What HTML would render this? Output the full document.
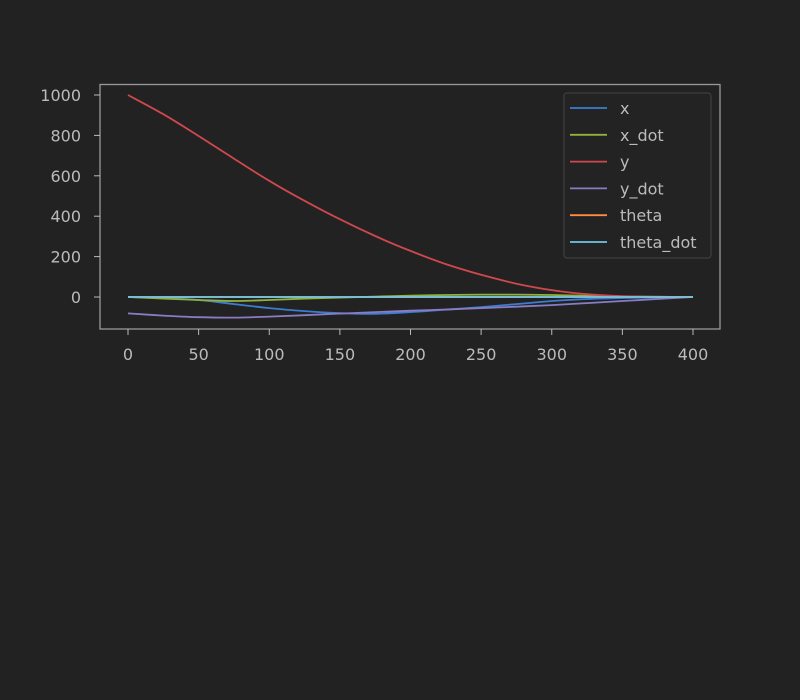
<!DOCTYPE html>
<html><head><meta charset="utf-8"><style>
body{margin:0;background:#222;}
svg{display:block;font-family:"DejaVu Sans","Liberation Sans",sans-serif;}
</style></head><body>
<svg id="chart" width="800" height="700">
<rect width="800" height="700" fill="#222"/>
<g id="marks"></g>
<rect x="100" y="84.5" width="620" height="244.5" fill="none" stroke="#999" stroke-width="1.3"/>
<g id="axes"></g>
<g id="legend"></g>
</svg>
<script>
const xs = [0,25,50,75,100,125,150,175,200,225,250,275,300,325,350,375,400];
const seriesNames = ["x","x_dot","y","y_dot","theta","theta_dot"];
const xVals = [0,-5,-15,-35,-55,-70,-80,-83,-75,-63,-50,-35,-20,-10,-5,-2,0];
const xDotVals = [0,-8,-15,-20,-15,-8,-3,2,7,10,12,12,10,6,3,1,0];
const yVals = [1000,905,797,685,575,476,385,302,228,163,110,66,34,14,4,1,0];
const yDotVals = [-81,-92,-100,-102,-97,-90,-82,-75,-68,-62,-55,-48,-40,-30,-20,-10,0];
const thetaVals = [0,0,0,0,0,0,0,0,0,0,0,0,0,0,0,0,0];
const thetaDotVals = [0,0,0,0,0,0,0,0,0,0,0,0,0,0,0,0,0];
const xTicks = [0,50,100,150,200,250,300,350,400];
const yTicks = [0,200,400,600,800,1000];
const colors = ["#3b7ed1","#8fb23c","#d0484e","#8a7cc4","#ff8c40","#6ec4e6"];
const allVals = [xVals,xDotVals,yVals,yDotVals,thetaVals,thetaDotVals];

const NS="http://www.w3.org/2000/svg";
const sx = v => 128 + v*1.4125;
const sy = v => 297 - v*0.202;
function smoothPath(pts){
  let d='M'+pts[0][0].toFixed(1)+','+pts[0][1].toFixed(1);
  for(let i=0;i<pts.length-1;i++){
    const p0=pts[i-1]||pts[i],p1=pts[i],p2=pts[i+1],p3=pts[i+2]||p2;
    const c1=[p1[0]+(p2[0]-p0[0])/6,p1[1]+(p2[1]-p0[1])/6];
    const c2=[p2[0]-(p3[0]-p1[0])/6,p2[1]-(p3[1]-p1[1])/6];
    d+='C'+c1[0].toFixed(1)+','+c1[1].toFixed(1)+' '+c2[0].toFixed(1)+','+c2[1].toFixed(1)+' '+p2[0].toFixed(1)+','+p2[1].toFixed(1);
  }
  return d;
}
const marks=document.getElementById('marks');
allVals.forEach((vals,i)=>{
  const p=document.createElementNS(NS,'path');
  p.setAttribute('d', smoothPath(vals.map((v,j)=>[sx(xs[j]),sy(v)])));
  p.setAttribute('fill','none');p.setAttribute('stroke',colors[i]);p.setAttribute('stroke-width','1.8');
  
  
  marks.appendChild(p);
});
const axes=document.getElementById('axes');
xTicks.forEach(t=>{
  const l=document.createElementNS(NS,'line');
  l.setAttribute('x1',sx(t));l.setAttribute('x2',sx(t));l.setAttribute('y1',329);l.setAttribute('y2',335);
  l.setAttribute('stroke','#bbb');
  
  
  axes.appendChild(l);
  const tx=document.createElementNS(NS,'text');
  tx.setAttribute('x',sx(t));tx.setAttribute('y',360);tx.setAttribute('text-anchor','middle');
  tx.setAttribute('fill','#bbb');tx.setAttribute('font-size','16');tx.textContent=t;
  
  
  axes.appendChild(tx);
});
yTicks.forEach(t=>{
  const l=document.createElementNS(NS,'line');
  l.setAttribute('x1',94);l.setAttribute('x2',100);l.setAttribute('y1',sy(t));l.setAttribute('y2',sy(t));
  l.setAttribute('stroke','#bbb');
  
  
  axes.appendChild(l);
  const tx=document.createElementNS(NS,'text');
  tx.setAttribute('x',81);tx.setAttribute('y',sy(t)+6);tx.setAttribute('text-anchor','end');
  tx.setAttribute('fill','#bbb');tx.setAttribute('font-size','16');tx.textContent=t;
  
  
  axes.appendChild(tx);
});
const lg=document.getElementById('legend');
const box=document.createElementNS(NS,'rect');
box.setAttribute('x',564);box.setAttribute('y',93);box.setAttribute('width',147);box.setAttribute('height',165);
box.setAttribute('rx',3);box.setAttribute('fill','#232323');box.setAttribute('stroke','#444');


lg.appendChild(box);
seriesNames.forEach((n,i)=>{
  const y=108+i*26.8;
  const l=document.createElementNS(NS,'line');
  l.setAttribute('x1',570);l.setAttribute('x2',607);l.setAttribute('y1',y);l.setAttribute('y2',y);
  l.setAttribute('stroke',colors[i]);l.setAttribute('stroke-width','1.8');
  
  
  lg.appendChild(l);
  const tx=document.createElementNS(NS,'text');
  tx.setAttribute('x',620);tx.setAttribute('y',y+6);tx.setAttribute('fill','#bbb');tx.setAttribute('font-size','16');
  tx.textContent=n;
  
  
  lg.appendChild(tx);
});
</script>
</body></html>
